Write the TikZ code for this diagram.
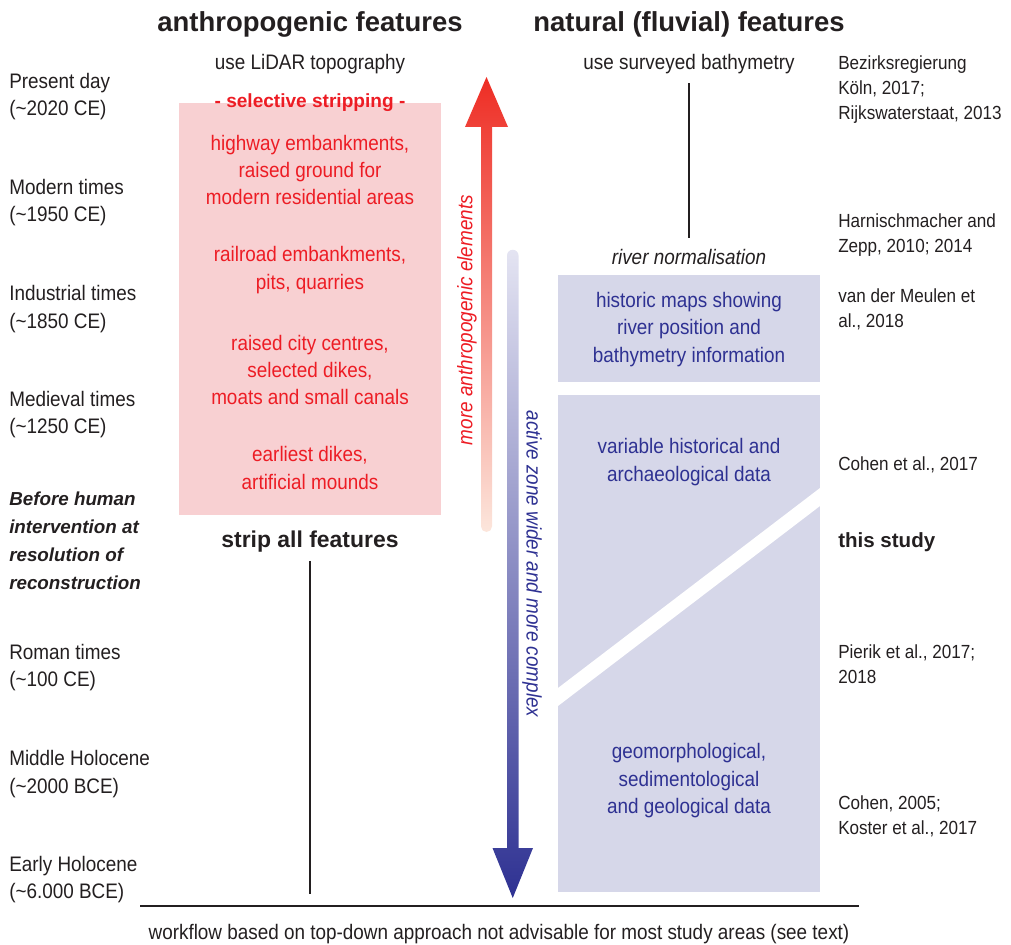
\documentclass[tikz,border=0pt]{standalone}
\usepackage{fontspec}
\setmainfont{Liberation Sans}[FakeStretch=0.9]
\newfontfamily\widefont{Liberation Sans}
\usepackage{xcolor}

\definecolor{inkgray}{RGB}{35,31,32}
\definecolor{featred}{RGB}{237,28,36}
\definecolor{stripbox}{RGB}{248,208,210}
\definecolor{databox}{RGB}{214,215,233}
\definecolor{datablue}{RGB}{46,49,146}
\definecolor{arrowred}{RGB}{238,45,36}
\definecolor{arrowpeach}{RGB}{252,230,220}
\definecolor{arrowlav}{RGB}{228,228,242}

\begin{document}
\begin{tikzpicture}[x=0.75pt,y=-0.75pt,
  every node/.style={inner sep=0pt, text=inkgray, yshift=-1.5pt},
  body/.style={font=\fontsize{15.75}{20.6}\selectfont, align=center},
  era/.style={body, align=left, anchor=west},
  head/.style={font=\widefont\bfseries\fontsize{20.6}{24}\selectfont},
  feat/.style={body, text=featred},
  data/.style={body, text=datablue},
  ref/.style={font=\fontsize{14.25}{18.75}\selectfont, align=left, anchor=west},
  rule/.style={draw=inkgray, line width=1.2pt}]

\useasboundingbox (0,0) rectangle (1011,945);

% ------------------------------------------------------------
% Column headings and starting data
% ------------------------------------------------------------
\node[head] (anthro) at (310,22) {anthropogenic features};
\node[head] (natural) at (689,22) {natural (fluvial) features};

\node[body] (lidar) at (310,62) {use LiDAR topography};
\node[body] (survey) at (689,62) {use surveyed bathymetry};

% ------------------------------------------------------------
% Time periods (left)
% ------------------------------------------------------------
\node[era] (present) at (9,94.5) {Present day\\(\textasciitilde2020 CE)};
\node[era] (modern) at (9,200.5) {Modern times\\(\textasciitilde1950 CE)};
\node[era] (industrial) at (9,307) {Industrial times\\(\textasciitilde1850 CE)};
\node[era] (medieval) at (9,412.5) {Medieval times\\(\textasciitilde1250 CE)};
\node[era, font=\widefont\bfseries\itshape\fontsize{14.1}{21}\selectfont]
  (prehuman) at (9,539)
  {Before human\\intervention at\\resolution of\\reconstruction};
\node[era] (roman) at (9,665.5) {Roman times\\(\textasciitilde100 CE)};
\node[era] (midholo) at (9,772) {Middle Holocene\\(\textasciitilde2000 BCE)};
\node[era] (earlyholo) at (9,877.5) {Early Holocene\\(\textasciitilde6.000 BCE)};

% ------------------------------------------------------------
% Anthropogenic features: selective stripping
% ------------------------------------------------------------
\fill[stripbox] (179,103) rectangle (441,515);

\node[text=featred, font=\widefont\bfseries\fontsize{14.3}{18}\selectfont]
  (selective) at (310,101) {- selective stripping -};

\node[feat] (highway) at (310,168)
  {highway embankments,\\raised ground for\\modern residential areas};
\node[feat] (railroad) at (310,268) {railroad embankments,\\pits, quarries};
\node[feat] (city) at (310,368)
  {raised city centres,\\selected dikes,\\moats and small canals};
\node[feat] (earliest) at (310,466) {earliest dikes,\\artificial mounds};

\node[font=\widefont\bfseries\fontsize{17.2}{20}\selectfont]
  (strip) at (310,540) {strip all features};
\coordinate (stripfoot) at (310,892);
\draw[rule, shorten <=6pt] (strip.south) -- (stripfoot);

% ------------------------------------------------------------
% Gradient arrows between the columns
% ------------------------------------------------------------
\shade[top color=arrowred, bottom color=arrowpeach]
  (481,127) -- (465,127) -- (486.5,77) -- (508,127) -- (492,127)
  -- (492,526.5) arc[start angle=0, end angle=180, radius=5.5] -- cycle;
\node[body, font=\itshape\fontsize{15.75}{20.6}\selectfont, text=featred,
  rotate=90, yshift=0pt] (moreanthro) at (467,318) {more anthropogenic elements};

\shade[top color=arrowlav, bottom color=datablue]
  (507,255.5) arc[start angle=180, end angle=360, radius=5.75]
  -- (518.5,848) -- (533,848) -- (512.75,898) -- (492.5,848) -- (507,848)
  -- cycle;
\node[body, font=\itshape\fontsize{15.75}{20.6}\selectfont, text=datablue,
  rotate=-90, yshift=0pt] (activezone) at (532,562) {active zone wider and more complex};

% ------------------------------------------------------------
% Natural (fluvial) features: data sources
% ------------------------------------------------------------
\node[body, font=\itshape\fontsize{15.75}{20.6}\selectfont]
  (rivnorm) at (689,255) {river normalisation};
\draw[rule, shorten <=7pt, shorten >=8pt] (survey.south) -- (rivnorm.north);

\fill[databox] (558,275) rectangle (820,382);
\fill[databox] (558,395) rectangle (820,892);
% white cut between historical and geological data
\fill[white] (558,688) -- (820,488) -- (820,506) -- (558,706) -- cycle;

\node[data] (maps) at (689,327.5)
  {historic maps showing\\river position and\\bathymetry information};
\node[data] (archaeo) at (689,460)
  {variable historical and\\archaeological data};
\node[data] (geomorph) at (689,779)
  {geomorphological,\\sedimentological\\and geological data};

% ------------------------------------------------------------
% References (right)
% ------------------------------------------------------------
\node[ref] (bezirk) at (838,88)
  {Bezirksregierung\\K\"oln, 2017;\\Rijkswaterstaat, 2013};
\node[ref] (harnisch) at (838,233) {Harnischmacher and\\Zepp, 2010; 2014};
\node[ref] (meulen) at (838,307.5) {van der Meulen et\\al., 2018};
\node[ref] (cohen17) at (838,463) {Cohen et al., 2017};
\node[anchor=west, font=\widefont\bfseries\fontsize{15.4}{18}\selectfont]
  (thisstudy) at (838,540) {this study};
\node[ref] (pierik) at (838,662.5) {Pierik et al., 2017;\\2018};
\node[ref] (cohen05) at (838,814.5) {Cohen, 2005;\\Koster et al., 2017};

% ------------------------------------------------------------
% Time axis and note
% ------------------------------------------------------------
\draw[draw=inkgray, line width=1.5pt] (140,906) -- (859,906);
\node[body] (note) at (499,932)
  {workflow based on top-down approach not advisable for most study areas (see text)};

\end{tikzpicture}
\end{document}
